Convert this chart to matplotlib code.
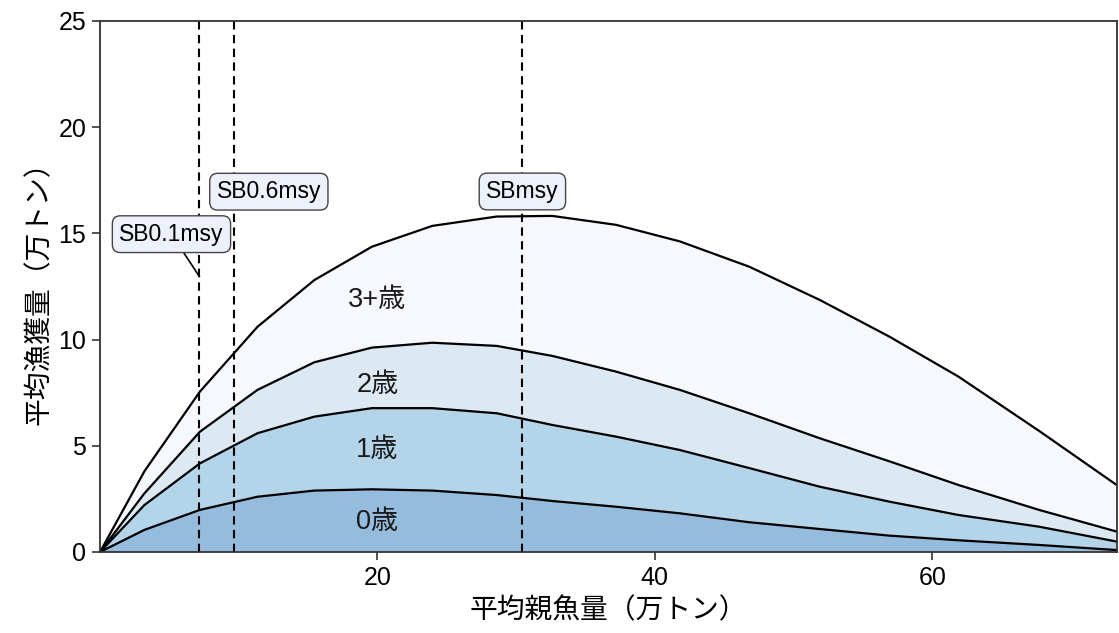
import numpy as np
import matplotlib
matplotlib.use("Agg")
import matplotlib.pyplot as plt

plt.rcParams['font.family'] = ['Liberation Sans', 'Noto Sans CJK JP', 'DejaVu Sans']


# =========================
# data
# =========================
sb = [0, 3.2, 7.2, 11.35, 15.45, 19.6, 23.95, 28.6, 32.6, 37.2, 41.8,
      46.8, 51.9, 56.9, 61.9, 67.7, 73.3]

catch_age0 = [0, 1.04, 1.98, 2.60, 2.89, 2.95, 2.89, 2.68, 2.40, 2.13, 1.82,
              1.40, 1.08, 0.77, 0.55, 0.33, 0.09]
catch_age1 = [0, 1.17, 2.19, 2.99, 3.48, 3.82, 3.88, 3.85, 3.58, 3.30, 2.98,
              2.55, 1.99, 1.60, 1.19, 0.86, 0.40]
catch_age2 = [0, 0.55, 1.49, 2.04, 2.56, 2.85, 3.08, 3.17, 3.25, 3.06, 2.83,
              2.58, 2.28, 1.90, 1.41, 0.79, 0.47]
catch_age3 = [0, 1.04, 1.89, 2.97, 3.87, 4.75, 5.50, 6.09, 6.59, 6.91, 6.99,
              6.90, 6.51, 5.87, 5.10, 3.72, 2.19]

age_labels = ["0歳", "1歳", "2歳", "3+歳"]
age_label_x = [20, 20, 20, 20]
age_label_y = [1.4, 4.8, 7.85, 11.85]
age_colors = ["#96bcdd", "#b3d4e9", "#dde9f2", "#f6f8fd"]

ref_names = ["SB0.1msy", "SB0.6msy", "SBmsy"]
ref_x = [7.17, 9.64, 30.45]
ref_label_x = [5.15, 12.17, 30.45]
ref_label_y = [14.96, 16.96, 16.97]
ref_point_y = [12.96, None, None]


# =========================
# plot
# =========================
fig = plt.figure(figsize=(11.19, 6.33), dpi=100)
ax = fig.add_axes([0.0894, 0.128, 0.9086, 0.839])

layers = np.array([catch_age0, catch_age1, catch_age2, catch_age3])
ax.stackplot(sb, layers, colors=age_colors, linewidth=0)

# boundary lines
for top in np.cumsum(layers, axis=0):
    ax.plot(sb, top, color="black", lw=1.6, solid_joinstyle="miter")

# age labels
for lab, lx, ly in zip(age_labels, age_label_x, age_label_y):
    ax.text(lx, ly, lab, ha="center", va="center", fontsize=19.5, color="#1a1a1a")

# reference points
for name, x, lx, ly, py in zip(ref_names, ref_x, ref_label_x, ref_label_y, ref_point_y):
    ax.axvline(x, color="black", lw=1.5, ls=(0, (4, 2.6)))
    box = dict(boxstyle="round,pad=0.3,rounding_size=0.35",
               fc="#edf1fc", ec="#444444", lw=1.0)
    if py is None:
        ax.text(lx, ly, name, ha="center", va="center", fontsize=16.5,
                bbox=box, zorder=5)
    else:
        ax.annotate(name, xy=(x, py), xytext=(lx, ly), ha="center", va="center",
                    fontsize=16.5, bbox=box, zorder=5,
                    arrowprops=dict(arrowstyle="-", color="black", lw=1.2,
                                    shrinkA=0, shrinkB=0))

# axes
ax.set_xlim(0, 73.3)
ax.set_ylim(0, 25)
ax.set_xticks([20, 40, 60])
ax.set_yticks([0, 5, 10, 15, 20, 25])
ax.tick_params(labelsize=18, length=6, width=1.2, color="#333333",
               labelcolor="black", pad=4)
for s in ax.spines.values():
    s.set_color("#333333")
    s.set_linewidth(1.3)

ax.set_xlabel("平均親魚量（万トン）", fontsize=20, labelpad=6)
ax.set_ylabel("平均漁獲量（万トン）", fontsize=20, labelpad=4)

fig.savefig("out.png", dpi=100)
